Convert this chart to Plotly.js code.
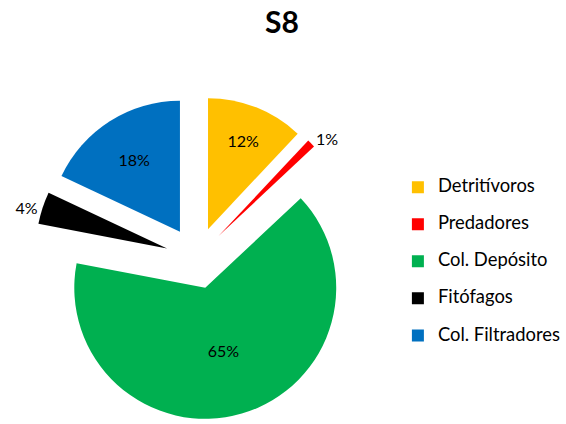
<!DOCTYPE html>
<html>
<head>
<meta charset="utf-8">
<script src="https://cdn.plot.ly/plotly-3.0.1.min.js"></script>
<style>html,body{margin:0;padding:0;background:#fff;}#chart{width:566px;height:424px;}</style>
</head>
<body>
<div id="chart"></div>
<script>
const categories = ["Detritívoros", "Predadores", "Col. Depósito", "Fitófagos", "Col. Filtradores"];
const values = [12, 1, 65, 4, 18];
const colors = ["#FFC000", "#FF0000", "#00B050", "#000000", "#0070C0"];
const textPositions = ["inside", "outside", "inside", "outside", "inside"];

const FONT = "Lato, 'Open Sans', sans-serif";

const trace = {
  type: "pie",
  labels: categories.map(c => '<span style="font-size:18.4px">' + c + '</span><br> '),
  values: values,
  sort: false,
  direction: "clockwise",
  rotation: 0,
  pull: values.map(() => 0.237),
  marker: {colors: colors, line: {width: 0}},
  textinfo: "percent",
  texttemplate: "%{percent:.0%}",
  textposition: textPositions,
  insidetextorientation: "horizontal",
  insidetextfont: {family: FONT, size: 16, color: "#000"},
  outsidetextfont: {family: FONT, size: 16, color: "#000"},
  domain: {x: [0.0611, 0.6336], y: [0.0094, 0.7736]},
  hoverinfo: "percent"
};

const layout = {
  width: 566, height: 424,
  margin: {l: 0, r: 0, t: 0, b: 0},
  paper_bgcolor: "#fff",
  font: {family: FONT, color: "#000"},
  title: {text: "<b>S8</b>", font: {family: FONT, size: 30, color: "#000"}, x: 0.498, xanchor: "center", y: 0.946, yanchor: "middle", yref: "container"},
  showlegend: true,
  legend: {x: 0.703, xanchor: "left", y: 0.594, yanchor: "top", valign: "top", font: {family: FONT, size: 13.1, color: "#000"}, bgcolor: "rgba(0,0,0,0)"}
};

Plotly.newPlot("chart", [trace], layout, {displayModeBar: false, staticPlot: true});
</script>
</body>
</html>
